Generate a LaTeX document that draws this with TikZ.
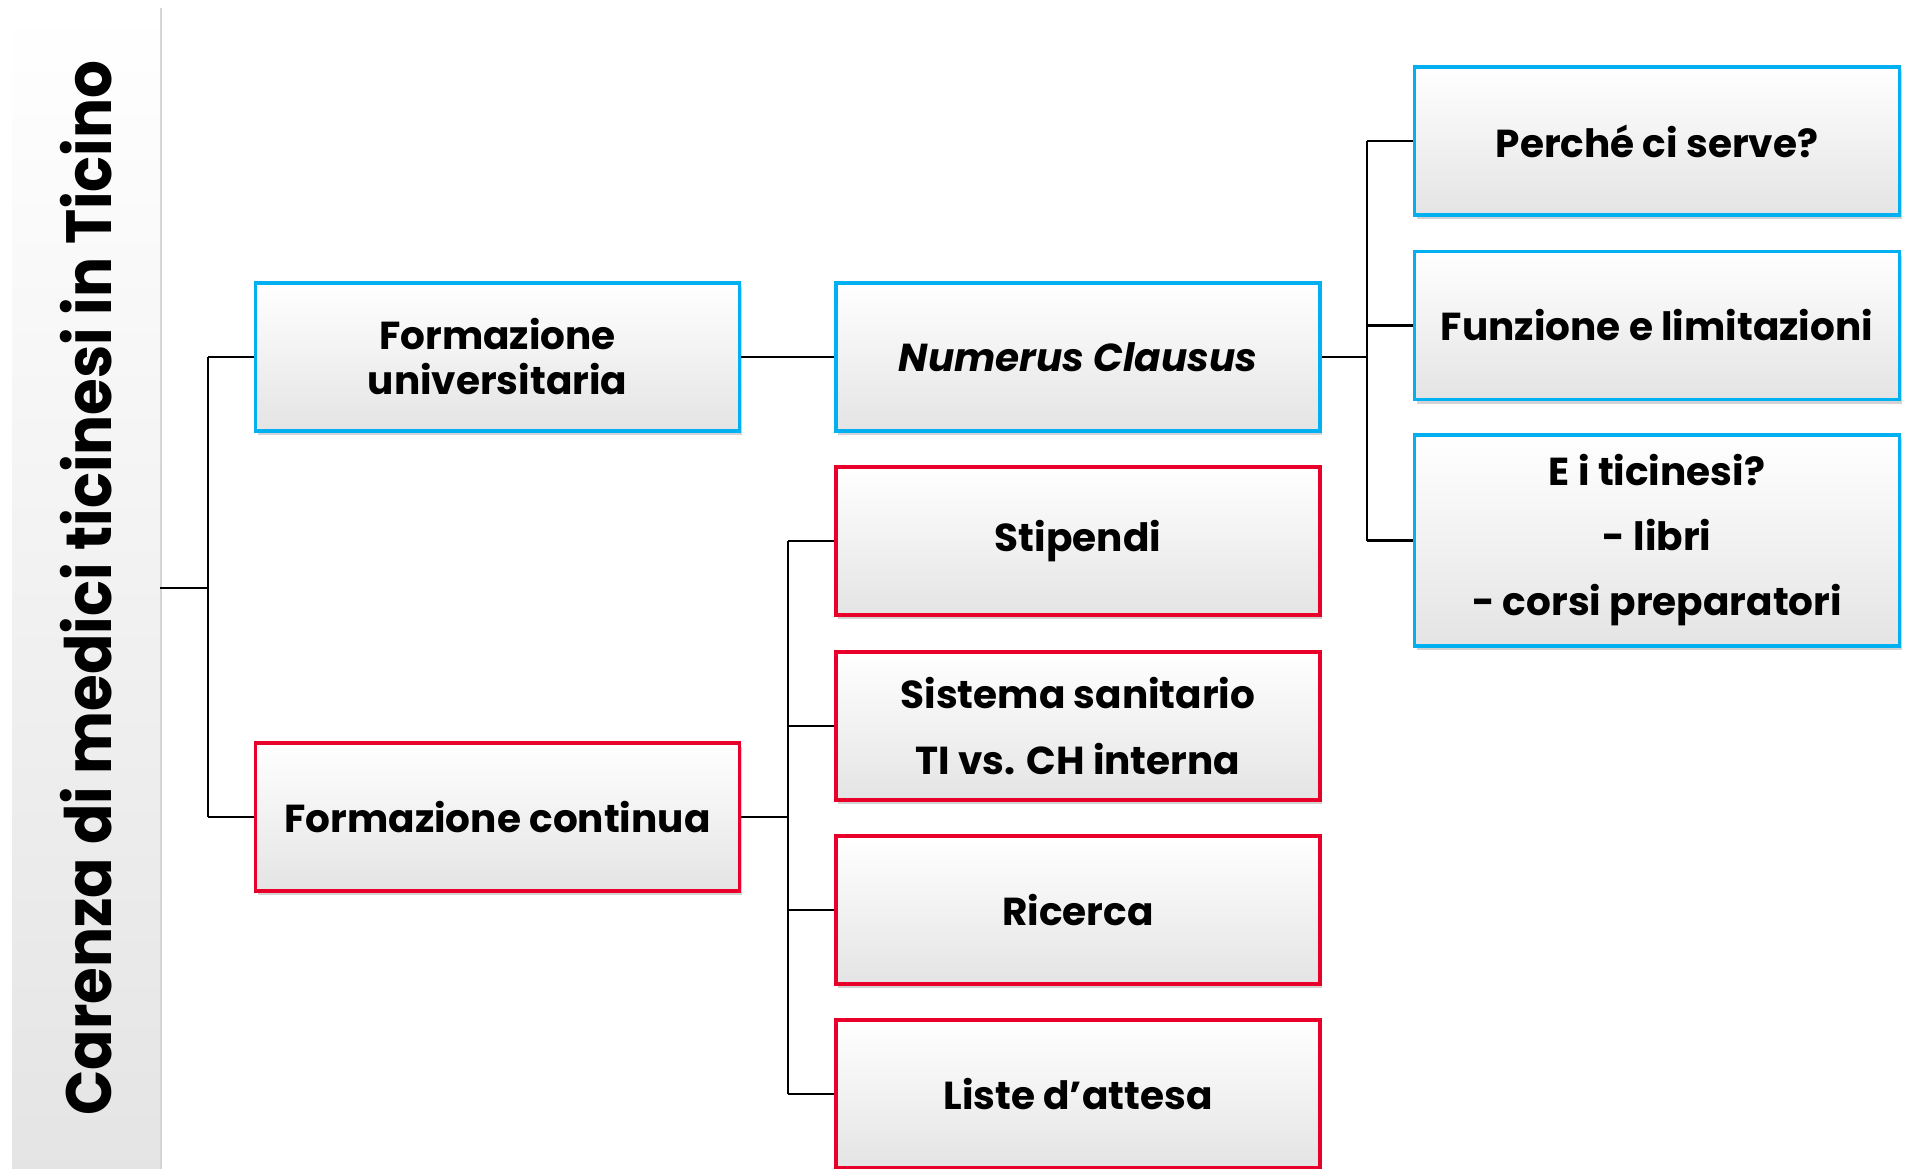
\documentclass[tikz,border=0pt]{standalone}
\usepackage{fontspec}
\setmainfont{Poppins}
\usetikzlibrary{shadows}
\definecolor{bblue}{RGB}{0,176,240}
\definecolor{bred}{RGB}{232,0,42}
\definecolor{boxgray}{RGB}{228,228,228}
\tikzset{
  box/.style={draw, line width=3.5pt, minimum width=484pt, minimum height=148pt,
    inner sep=0pt, align=center, top color=white, middle color=white, bottom color=boxgray,
    drop shadow={opacity=0.35, shadow xshift=2pt, shadow yshift=-4pt},
    font=\fontsize{39}{45}\selectfont\bfseries},
  bluebox/.style={box, draw=bblue},
  redbox/.style={box, draw=bred},
  conn/.style={line width=2.2pt, black}
}
\begin{document}
\begin{tikzpicture}[x=1pt,y=-1pt]
\useasboundingbox (0,0) rectangle (1911,1169);
% title bar
\node[minimum width=148pt, minimum height=1175pt, inner sep=0pt, anchor=north west,
  top color=white, bottom color=boxgray, drop shadow={opacity=0.35, shadow xshift=2pt, shadow yshift=-2pt}]
  (bar) at (12,6) {};
\node[rotate=90, font=\fontsize{64}{70}\selectfont\bfseries] (title) at (86,588) {\scalebox{0.93}[1]{Carenza di medici ticinesi in Ticino}};
% level 1
\node[bluebox] (fu) at (497.5,357) {Formazione\\universitaria};
\node[redbox] (fc) at (497.5,817) {Formazione continua};
% level 2
\node[bluebox] (nc) at (1078,357) {\itshape Numerus Clausus};
\node[redbox] (st) at (1078,541) {Stipendi};
\node[redbox, font=\fontsize{39}{66}\selectfont\bfseries] (ss) at (1078,726) {Sistema sanitario\\TI vs. CH interna};
\node[redbox] (ri) at (1078,910) {Ricerca};
\node[redbox] (li) at (1078,1094) {Liste d’attesa};
% level 3
\node[bluebox, minimum width=485pt] (pe) at (1657,141) {Perché ci serve?};
\node[bluebox, minimum width=485pt] (fl) at (1657,325.5) {Funzione e limitazioni};
\node[bluebox, minimum width=485pt, minimum height=211pt, font=\fontsize{39}{65}\selectfont\bfseries] (et) at (1657,540.5) {E i ticinesi?\\- libri\\- corsi preparatori};
% coordinates
\coordinate (j1) at (208,588);
\coordinate (j2) at (788,817);
\coordinate (j3) at (1367,357);
% connectors
\draw[conn] (bar.east |- j1) -- (j1);
\draw[conn] (j1 |- fu.west) -- (j1 |- fc.west);
\draw[conn] (j1 |- fu.west) -- (fu.west);
\draw[conn] (j1 |- fc.west) -- (fc.west);
\draw[conn] (fu.east) -- (nc.west);
\draw[conn] (fc.east) -- (j2);
\draw[conn] (j2 |- st.west) -- (j2 |- li.west);
\foreach \n in {st,ss,ri,li} \draw[conn] (j2 |- \n.west) -- (\n.west);
\draw[conn] (nc.east) -- (j3);
\draw[conn] (j3 |- pe.west) -- (j3 |- et.west);
\foreach \n in {pe,fl,et} \draw[conn] (j3 |- \n.west) -- (\n.west);
\end{tikzpicture}
\end{document}
